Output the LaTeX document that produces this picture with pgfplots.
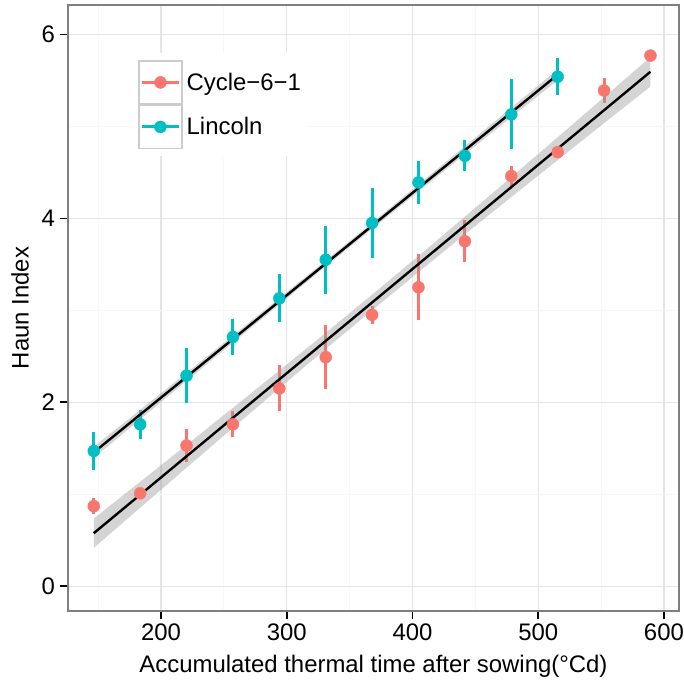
\documentclass[border=0pt]{standalone}
\usepackage{pgfplots}
\pgfplotsset{compat=1.18}
\usepackage{fontspec}
\setmainfont{Liberation Sans}
\definecolor{cred}{HTML}{F8766D}
\definecolor{cteal}{HTML}{00BFC4}
\definecolor{gridmaj}{HTML}{E5E5E5}
\definecolor{gridmin}{HTML}{F7F7F7}
\definecolor{bordergray}{HTML}{7F7F7F}
\definecolor{keygray}{HTML}{CCCCCC}
\definecolor{ribbongray}{HTML}{999999}
\begin{document}
\begin{tikzpicture}
\begin{axis}[
  scale only axis, width=611bp, height=606bp,
  xmin=126, xmax=612, ymin=-0.27, ymax=6.32,
  xtick={200,300,400,500,600}, ytick={0,2,4,6},
  minor xtick={150,250,350,450,550}, minor ytick={1,3,5},
  grid=both,
  major grid style={gridmaj, line width=1.2bp},
  minor grid style={gridmin, line width=0.8bp},
  minor tick length=0pt,
  major tick length=8bp,
  tick align=outside,
  xtick pos=left, ytick pos=left,
  tick style={black, line width=1.6bp},
  axis line style={bordergray, line width=1.3bp},
  tick label style={font=\fontsize{24}{28}\selectfont},
  xticklabel style={inner sep=0pt, anchor=north, yshift=-5bp},
  yticklabel style={inner sep=0pt, anchor=east, xshift=-5bp},
  /pgf/number format/assume math mode=true,
  label style={font=\fontsize{24}{28}\selectfont},
  xlabel={Accumulated thermal time after sowing(°Cd)},
  ylabel={Haun Index},
  xlabel style={at={(axis description cs:0.5,0)}, anchor=base, yshift=-61bp},
  ylabel style={at={(axis description cs:0,0.5)}, anchor=center, yshift=48bp},
  legend style={at={(axis description cs:0.1031,0.9208)}, anchor=north west,
    draw=none, fill=white, inner sep=7bp, row sep=0pt, column sep=4bp,
    nodes={inner sep=0pt, anchor=west}, font=\fontsize{24}{28}\selectfont},
  legend cell align=left,
]
% error bars and points
\addplot[forget plot, only marks, mark=*, mark size=6bp, cred, mark options={draw=none, fill=cred},
  error bars/.cd, y dir=both, y explicit, error mark=none,
  error bar style={line width=3bp, cred}]
  coordinates {
  (146.5,0.87) +- (0,0.09)
  (183.4,1.01) +- (0,0.04)
  (220.3,1.53) +- (0,0.18)
  (257.2,1.76) +- (0,0.14)
  (294.1,2.15) +- (0,0.25)
  (331.0,2.49) +- (0,0.35)
  (367.9,2.95) +- (0,0.10)
  (404.8,3.25) +- (0,0.36)
  (441.7,3.75) +- (0,0.23)
  (478.6,4.46) +- (0,0.11)
  (515.5,4.72) +- (0,0.03)
  (552.4,5.39) +- (0,0.14)
  (589.3,5.77) +- (0,0.02)
  };
\addplot[forget plot, only marks, mark=*, mark size=6bp, cteal, mark options={draw=none, fill=cteal},
  error bars/.cd, y dir=both, y explicit, error mark=none,
  error bar style={line width=3bp, cteal}]
  coordinates {
  (146.5,1.47) +- (0,0.21)
  (183.4,1.76) +- (0,0.16)
  (220.3,2.29) +- (0,0.30)
  (257.2,2.71) +- (0,0.20)
  (294.1,3.13) +- (0,0.26)
  (331.0,3.55) +- (0,0.37)
  (367.9,3.95) +- (0,0.38)
  (404.8,4.39) +- (0,0.23)
  (441.7,4.68) +- (0,0.17)
  (478.6,5.13) +- (0,0.38)
  (515.5,5.54) +- (0,0.20)
  };
% confidence ribbons
\addplot[forget plot, draw=none, fill=ribbongray, fill opacity=0.42] coordinates {
  (146.5,0.736) (183.4,1.135) (220.3,1.536) (257.2,1.940) (294.1,2.345) (331.0,2.755)
  (367.9,3.170) (404.8,3.591) (441.7,4.018) (478.6,4.449) (515.5,4.882) (552.4,5.317) (589.3,5.754)
  (589.3,5.434) (552.4,5.035) (515.5,4.634) (478.6,4.231) (441.7,3.826) (404.8,3.415)
  (367.9,3.000) (331.0,2.579) (294.1,2.153) (257.2,1.722) (220.3,1.288) (183.4,0.853) (146.5,0.416)
  };
\addplot[forget plot, draw=none, fill=ribbongray, fill opacity=0.42] coordinates {
  (146.5,1.515) (183.4,1.918) (220.3,2.320) (257.2,2.725) (294.1,3.132) (331.0,3.541)
  (367.9,3.953) (404.8,4.368) (441.7,4.785) (478.6,5.203) (515.5,5.622)
  (515.5,5.502) (478.6,5.099) (441.7,4.697) (404.8,4.292) (367.9,3.885) (331.0,3.477)
  (294.1,3.064) (257.2,2.649) (220.3,2.232) (183.4,1.814) (146.5,1.395)
  };
% fitted lines
\addplot[forget plot, black, line width=2.4bp] coordinates {(146.5,0.576) (589.3,5.594)};
\addplot[forget plot, black, line width=2.4bp] coordinates {(146.5,1.455) (515.5,5.562)};
% legend
\addlegendimage{legend image code/.code={
  \draw[keygray, line width=1.5bp, fill=white] (0bp,-21.5bp) rectangle (43bp,21.5bp);
  \draw[cred, line width=3bp] (3bp,0bp) -- (40bp,0bp);
  \fill[cred] (21.5bp,0bp) circle (6bp);}}
\addlegendentry{Cycle−6−1}
\addlegendimage{legend image code/.code={
  \draw[keygray, line width=1.5bp, fill=white] (0bp,-21.5bp) rectangle (43bp,21.5bp);
  \draw[cteal, line width=3bp] (3bp,0bp) -- (40bp,0bp);
  \fill[cteal] (21.5bp,0bp) circle (6bp);}}
\addlegendentry{Lincoln}
\end{axis}
\pgfresetboundingbox
\path (-68bp,-69bp) rectangle (616bp,611bp);
\end{tikzpicture}
\end{document}
